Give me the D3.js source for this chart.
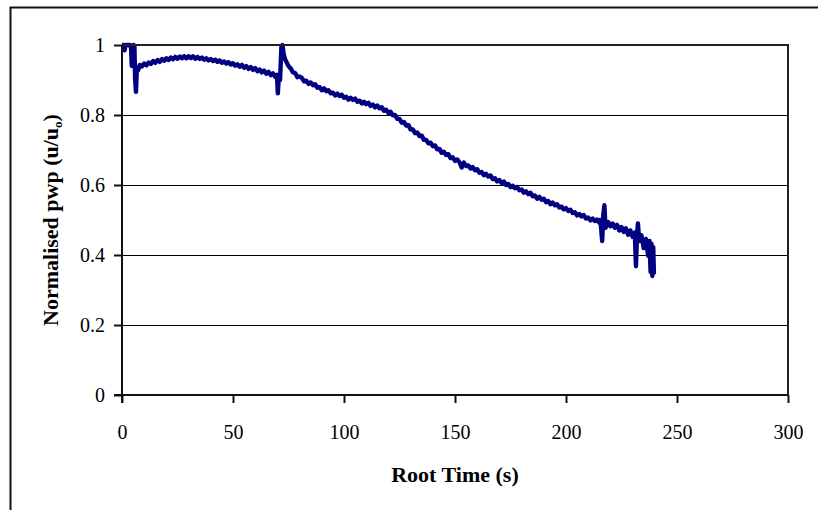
<!DOCTYPE html>
<html>
<head>
<script src="https://d3js.org/d3.v7.min.js"></script>
<style>
  body { margin: 0; background: #fff; }
  text { font-family: "Liberation Serif", "Times New Roman", serif; fill: #000; }
  .tick-label { font-size: 20px; }
  .axis-title { font-size: 22px; font-weight: bold; }
</style>
</head>
<body>
<script>
// root time (s) and normalised pore water pressure
var rootTime = [0, 0.8, 1.2, 1.6, 3.6, 4.1, 4.4, 4.9, 5.2, 5.6, 5.9, 6.3, 6.7, 7.3,
  8, 9, 10, 11, 12, 13, 14, 15, 16, 17, 18, 19, 20, 21, 22, 23, 24, 25, 26, 27, 28, 29,
  30, 31, 32, 33, 34, 35, 36, 37, 38, 39, 40, 41, 42, 43, 44, 45, 46, 47, 48, 49,
  50, 51, 52, 53, 54, 55, 56, 57, 58, 59, 60, 61, 62, 63, 64, 65, 66, 67, 68, 69,
  69.8, 70.2, 70.6, 71.2, 71.8, 72.3, 72.8, 73.4, 74, 75, 76, 77, 78, 79, 80,
  81, 82, 83, 84, 85, 86, 87, 88, 89, 90, 91, 92, 93, 94, 95, 96, 97, 98, 99,
  100, 101, 102, 103, 104, 105, 106, 107, 108, 109, 110, 111, 112, 113, 114, 115, 116, 117, 118, 119,
  120, 121, 122, 123, 124, 125, 126, 127, 128, 129, 130, 131, 132, 133, 134, 135, 136, 137, 138, 139,
  140, 141, 142, 143, 144, 145, 146, 147, 148, 149, 150, 151, 152, 153, 154, 155, 156, 157, 158, 159,
  160, 161, 162, 163, 164, 165, 166, 167, 168, 169, 170, 171, 172, 173, 174, 175, 176, 177, 178, 179,
  180, 181, 182, 183, 184, 185, 186, 187, 188, 189, 190, 191, 192, 193, 194, 195, 196, 197, 198, 199,
  200, 201, 202, 203, 204, 205, 206, 207, 208, 209, 210, 211, 212, 213, 214, 215,
  215.5, 216.3, 216.8, 217.3, 217.8, 219, 220, 221, 222, 223, 224, 225, 226, 227, 228, 229, 230, 231,
  231.5, 232, 232.4, 233, 234, 235, 236, 237, 237.6, 238.1, 238.5, 238.9, 239.3, 239.6];

var pwp = [1.000, 1.000, 0.985, 1.000, 1.000, 0.990, 0.940, 0.950, 1.000, 0.998, 0.905, 0.866, 0.935, 0.928,
  0.943, 0.939, 0.947, 0.942, 0.950, 0.946, 0.954, 0.949, 0.957, 0.952, 0.960, 0.955, 0.962, 0.957, 0.964, 0.959, 0.966, 0.961, 0.967, 0.962, 0.968, 0.962,
  0.968, 0.963, 0.968, 0.961, 0.966, 0.960, 0.964, 0.958, 0.962, 0.956, 0.960, 0.954, 0.958, 0.952, 0.956, 0.949, 0.953, 0.947, 0.951, 0.944,
  0.948, 0.941, 0.945, 0.938, 0.943, 0.935, 0.940, 0.932, 0.937, 0.929, 0.934, 0.925, 0.930, 0.922, 0.927, 0.918, 0.923, 0.914, 0.919, 0.909,
  0.915, 0.862, 0.905, 0.900, 0.995, 1.000, 0.975, 0.960, 0.952, 0.940, 0.933, 0.922, 0.920, 0.908, 0.910,
  0.906, 0.896, 0.898, 0.889, 0.893, 0.885, 0.888, 0.878, 0.880, 0.871, 0.876, 0.868, 0.871, 0.862, 0.864, 0.856, 0.861, 0.854, 0.858,
  0.849, 0.852, 0.844, 0.849, 0.843, 0.847, 0.838, 0.841, 0.833, 0.838, 0.831, 0.835, 0.826, 0.830, 0.822, 0.827, 0.819, 0.822, 0.812, 0.815,
  0.806, 0.809, 0.799, 0.800, 0.789, 0.789, 0.778, 0.780, 0.770, 0.771, 0.759, 0.759, 0.748, 0.750, 0.740, 0.741, 0.729, 0.729, 0.719, 0.721,
  0.711, 0.713, 0.702, 0.703, 0.692, 0.695, 0.686, 0.688, 0.677, 0.679, 0.669, 0.673, 0.665, 0.650, 0.664, 0.654, 0.656, 0.647, 0.651, 0.642,
  0.645, 0.635, 0.637, 0.628, 0.632, 0.624, 0.627, 0.617, 0.619, 0.610, 0.614, 0.606, 0.610, 0.600, 0.603, 0.594, 0.598, 0.591, 0.594, 0.585,
  0.587, 0.578, 0.582, 0.574, 0.578, 0.568, 0.570, 0.561, 0.566, 0.558, 0.561, 0.551, 0.554, 0.545, 0.550, 0.542, 0.545, 0.536, 0.538, 0.530,
  0.534, 0.526, 0.529, 0.520, 0.522, 0.513, 0.517, 0.510, 0.514, 0.504, 0.507, 0.499, 0.504, 0.497, 0.501, 0.492,
  0.500, 0.440, 0.515, 0.542, 0.478, 0.494, 0.482, 0.490, 0.478, 0.486, 0.470, 0.480, 0.466, 0.476, 0.458, 0.470, 0.452, 0.464,
  0.368, 0.455, 0.490, 0.440, 0.456, 0.420, 0.446, 0.398, 0.440, 0.352, 0.432, 0.340, 0.422, 0.345];

var xTicks = [0, 50, 100, 150, 200, 250, 300];
var yTicks = [0, 0.2, 0.4, 0.6, 0.8, 1];

var width = 818, height = 510;
var plot = {left: 122, top: 45, right: 788, bottom: 395};

var svg = d3.select("body").append("svg")
  .attr("width", width)
  .attr("height", height);

// outer chart frame (runs past the picture on the right and bottom)
svg.append("rect")
  .attr("x", 10.5).attr("y", 7.5)
  .attr("width", 900).attr("height", 600)
  .style("fill", "white")
  .style("stroke", "#111")
  .style("stroke-width", 2);

var x = d3.scaleLinear().domain([0, 300]).range([plot.left, plot.right]);
var y = d3.scaleLinear().domain([0, 1]).range([plot.bottom, plot.top]);

// gridlines
svg.append("g")
  .selectAll("line")
  .data(yTicks.filter(function(d) { return d > 0 && d < 1; }))
  .enter().append("line")
  .attr("x1", plot.left).attr("x2", plot.right)
  .attr("y1", function(d) { return Math.round(y(d)) + 0.5; })
  .attr("y2", function(d) { return Math.round(y(d)) + 0.5; })
  .style("stroke", "#000")
  .style("stroke-width", 1);

// data trace
var pts = rootTime.map(function(t, i) { return [t, pwp[i]]; });
var line = d3.line()
  .x(function(d) { return x(d[0]); })
  .y(function(d) { return y(d[1]); });

svg.append("path")
  .datum(pts)
  .attr("d", line)
  .style("fill", "none")
  .style("stroke", "#000080")
  .style("stroke-width", 4.4)
  .style("stroke-linejoin", "round");

// plot border (top and right)
svg.append("path")
  .attr("d", "M" + plot.left + "," + plot.top + "H" + plot.right + "V" + plot.bottom)
  .style("fill", "none")
  .style("stroke", "#222")
  .style("stroke-width", 2);

// axes
var xAxis = d3.axisBottom(x).tickValues(xTicks).tickSize(8).tickFormat(d3.format("d"));
var yAxis = d3.axisLeft(y).tickValues(yTicks).tickSize(8).tickFormat(function(d) { return d === 0 || d === 1 ? d : d.toFixed(1); });

var gx = svg.append("g")
  .attr("transform", "translate(0," + plot.bottom + ")")
  .call(xAxis);
gx.select(".domain").remove();
gx.append("line").attr("x1", plot.left - 8).attr("x2", plot.right)
  .style("stroke", "#111").style("stroke-width", 2);
gx.selectAll(".tick line").style("stroke", "#111").style("stroke-width", 2);
gx.selectAll(".tick text")
  .attr("class", "tick-label")
  .attr("y", 0).attr("dy", null)
  .attr("transform", "translate(0,44)");

var gy = svg.append("g")
  .attr("transform", "translate(" + plot.left + ",0)")
  .call(yAxis);
gy.select(".domain").remove();
gy.append("line").attr("y1", plot.top).attr("y2", plot.bottom + 8)
  .style("stroke", "#111").style("stroke-width", 2);
gy.selectAll(".tick line").style("stroke", "#111").style("stroke-width", 2);
gy.selectAll(".tick text")
  .attr("class", "tick-label")
  .attr("x", -17).attr("dy", "0.34em");
gy.attr("font-family", null).attr("font-size", null);
gx.attr("font-family", null).attr("font-size", null);

// axis titles
svg.append("text")
  .attr("class", "axis-title")
  .attr("x", (plot.left + plot.right) / 2)
  .attr("y", 482)
  .attr("text-anchor", "middle")
  .text("Root Time (s)");

var yt = svg.append("text")
  .attr("class", "axis-title")
  .attr("text-anchor", "middle")
  .attr("transform", "translate(58," + (plot.top + plot.bottom) / 2 + ") rotate(-90)");
yt.append("tspan").text("Normalised pwp (u/u");
yt.append("tspan").attr("font-size", "13px").attr("dy", 4).text("o");
yt.append("tspan").attr("dy", -4).text(")");
</script>
</body>
</html>
